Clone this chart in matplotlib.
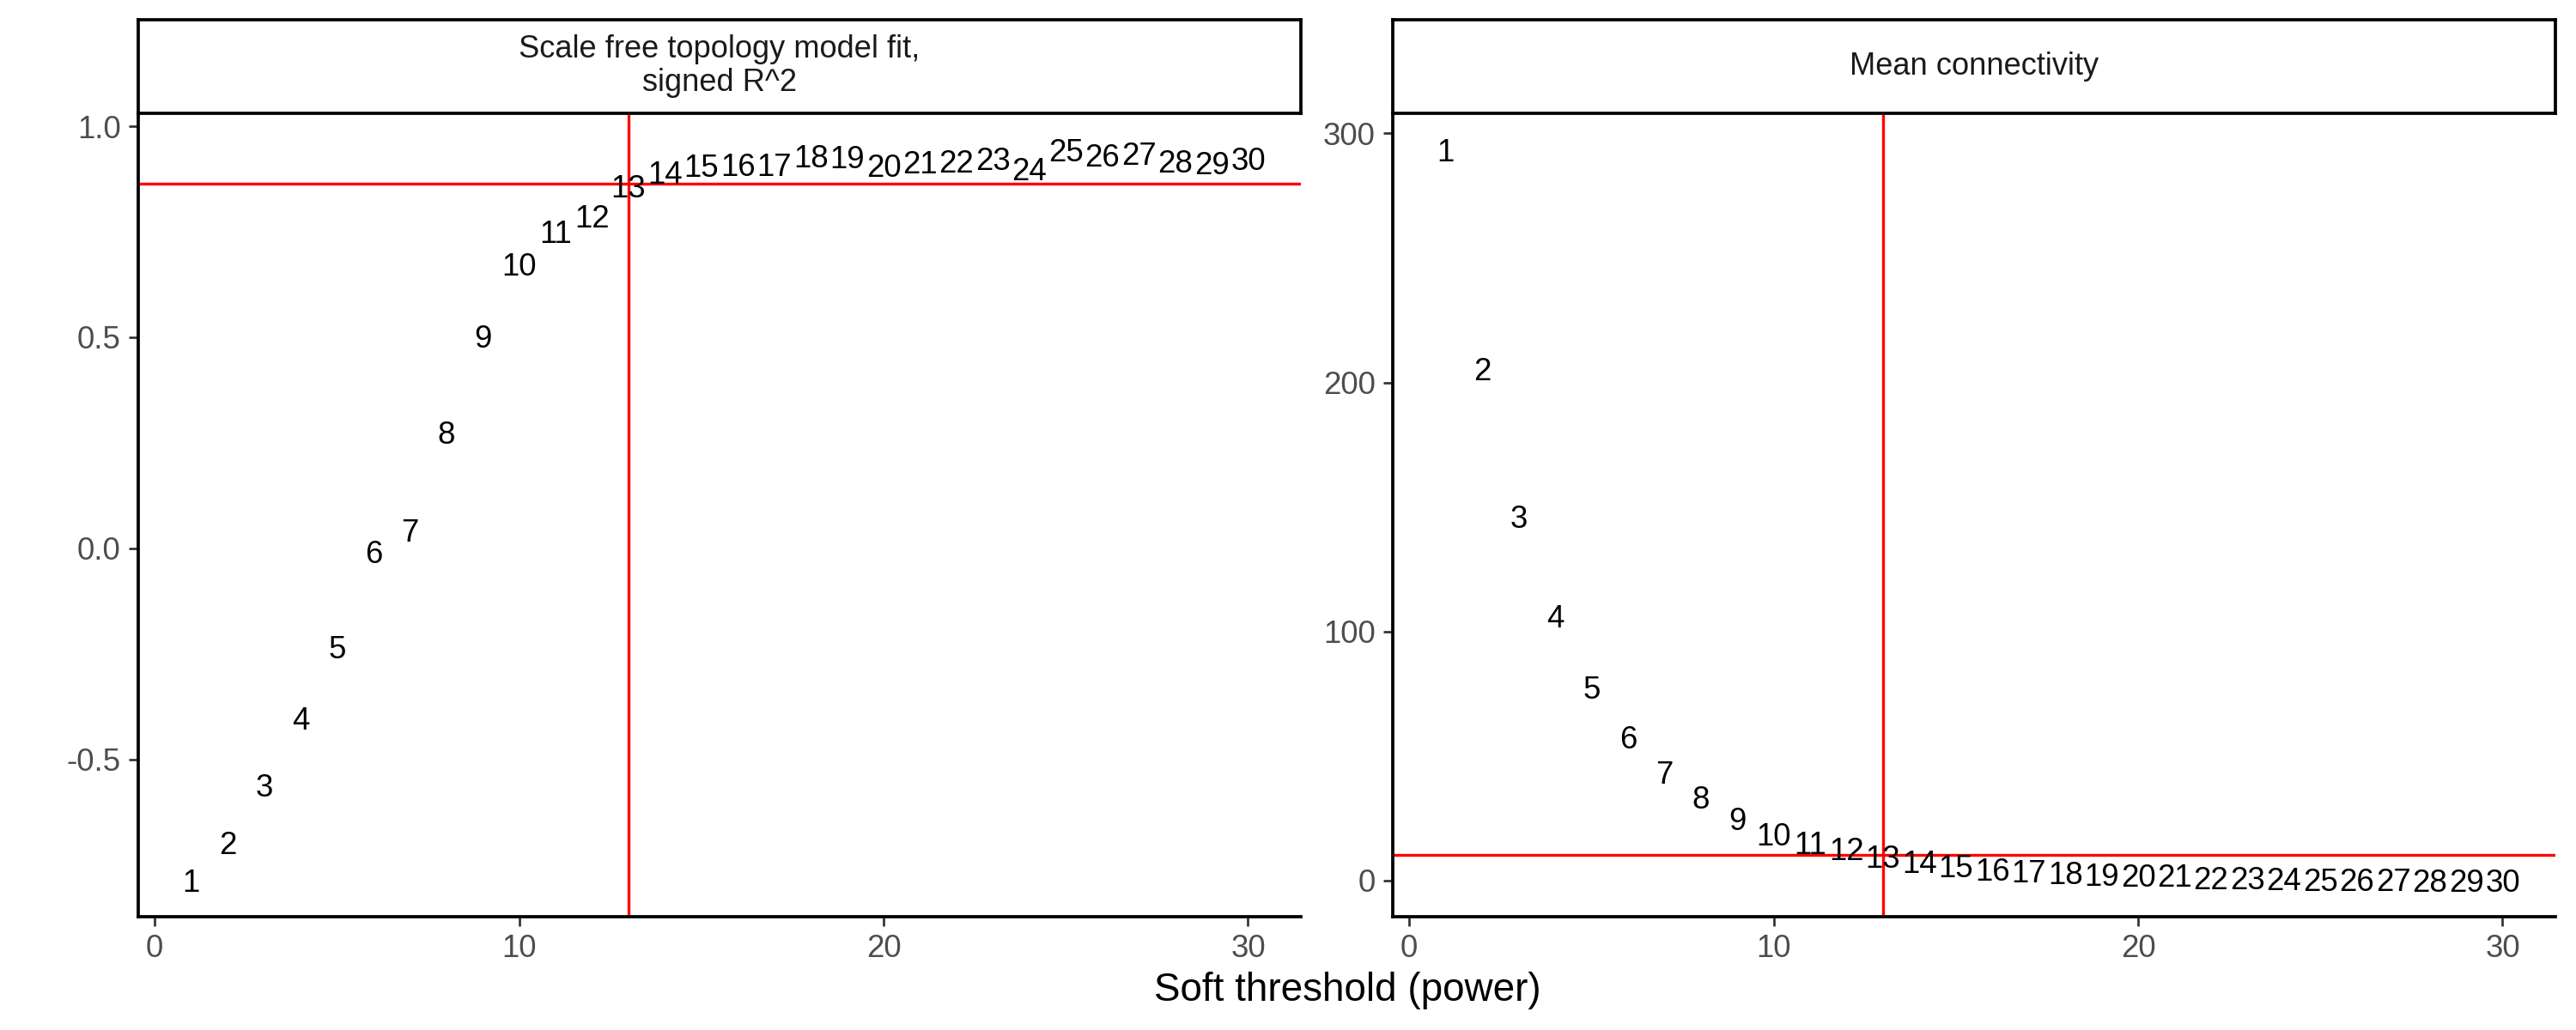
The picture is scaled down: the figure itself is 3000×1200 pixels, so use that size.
import matplotlib
matplotlib.use("Agg")
import matplotlib.pyplot as plt

plt.rcParams["font.family"] = ["Liberation Sans", "DejaVu Sans"]

# soft-threshold powers and the two fit statistics
powers = list(range(1, 31))
sft_r2 = [-0.786, -0.697, -0.560, -0.401, -0.233, -0.008, 0.043, 0.276, 0.502, 0.673,
          0.751, 0.788, 0.859, 0.891, 0.908, 0.910, 0.909, 0.929, 0.927, 0.907,
          0.916, 0.917, 0.924, 0.899, 0.944, 0.931, 0.935, 0.917, 0.914, 0.924]
mean_k = [293.4, 205.5, 146.2, 106.1, 77.8, 57.8, 43.5, 33.5, 24.9, 18.8,
          15.2, 12.9, 9.7, 7.7, 5.8, 4.6, 4.0, 3.2, 2.6, 2.2,
          2.0, 1.2, 1.0, 0.8, 0.6, 0.4, 0.3, 0.2, 0.1, 0.1]

chosen_power = 13
r2_cut = 0.864
k_cut = 10.3

panel_titles = ["Scale free topology model fit,\nsigned R^2", "Mean connectivity"]
x_ticks = [0, 10, 20, 30]
y_ticks = [[-0.5, 0.0, 0.5, 1.0], [0, 100, 200, 300]]
y_ticklabels = [["-0.5", "0.0", "0.5", "1.0"], ["0", "100", "200", "300"]]


def expand(vals, mult=0.05):
    lo, hi = min(vals), max(vals)
    pad = (hi - lo) * mult
    return lo - pad, hi + pad


fig = plt.figure(figsize=(10, 4), dpi=300)

panels = [
    (0.0537, sft_r2, r2_cut),
    (0.5407, mean_k, k_cut),
]
ax_w = 0.4513
ax_bottom, ax_top = 0.110, 0.890
strip_top = 0.981

for i, (x0, vals, cut) in enumerate(panels):
    ax = fig.add_axes([x0, ax_bottom, ax_w, ax_top - ax_bottom])
    for p, v in zip(powers, vals):
        ax.text(p, v, str(p), ha="center", va="center_baseline", fontsize=8.8, color="black")
    ax.axhline(cut, color="red", lw=0.8)
    ax.axvline(chosen_power, color="red", lw=0.8)

    ax.set_xlim(*expand(powers))
    ax.set_ylim(*expand(vals + [cut]))
    ax.set_xticks(x_ticks)
    ax.set_yticks(y_ticks[i])
    ax.set_yticklabels(y_ticklabels[i])
    ax.tick_params(length=2.7, width=0.65, color="#333333", labelcolor="#4D4D4D",
                   labelsize=8.8, pad=2.2)
    for side in ("top", "right"):
        ax.spines[side].set_visible(False)
    for side in ("left", "bottom"):
        ax.spines[side].set_linewidth(0.9)
        ax.spines[side].set_color("black")

    # facet strip on top
    sax = fig.add_axes([x0, ax_top, ax_w, strip_top - ax_top])
    sax.set_xticks([])
    sax.set_yticks([])
    for sp in sax.spines.values():
        sp.set_linewidth(0.9)
        sp.set_color("black")
    sax.text(0.5, 0.5, panel_titles[i], ha="center", va="center", fontsize=8.7,
             linespacing=1.15, transform=sax.transAxes, color="#1A1A1A")

fig.text(0.523, 0.038, "Soft threshold (power)", ha="center", va="center", fontsize=11)

fig.savefig("out.png", dpi=300, facecolor="white")
